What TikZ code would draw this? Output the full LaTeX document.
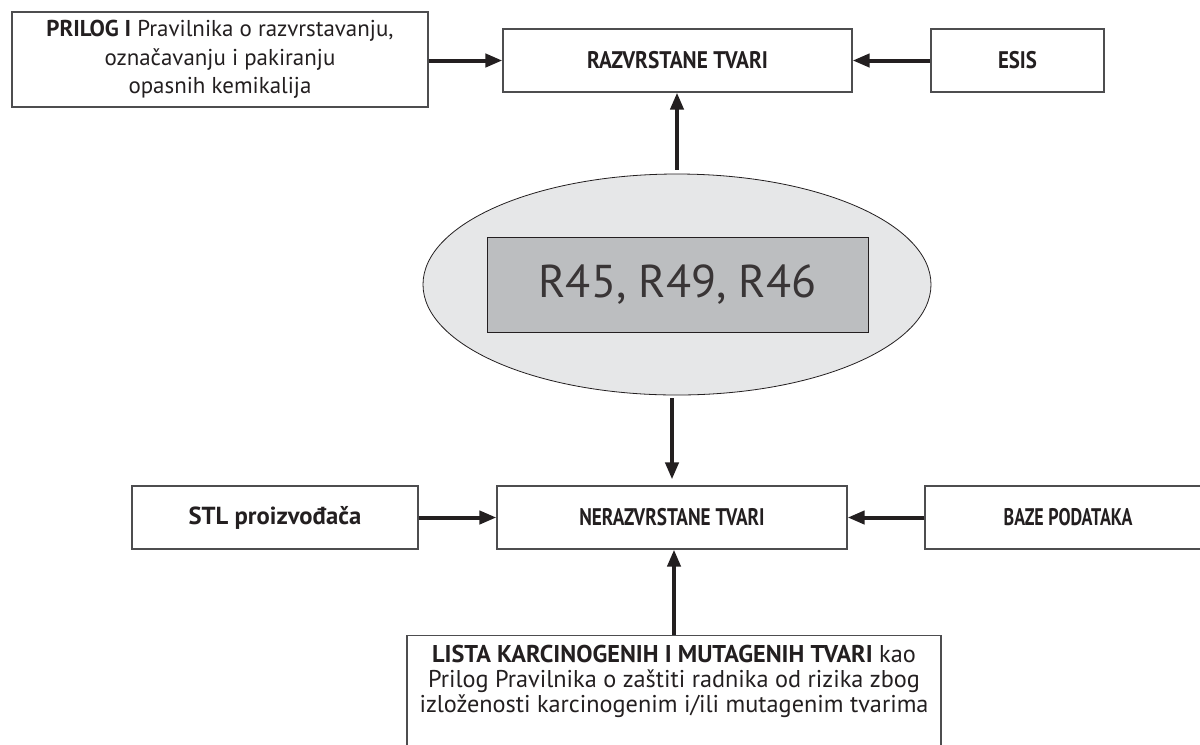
\documentclass[tikz,border=0pt]{standalone}
\usepackage{fontspec}
\setmainfont{PT Sans}
\usetikzlibrary{arrows.meta,shapes.geometric}
\definecolor{ink}{HTML}{231F20}
\definecolor{ellfill}{HTML}{E6E7E8}
\definecolor{rectfill}{HTML}{BCBEC0}
\definecolor{boxline}{HTML}{4D4D4F}
\begin{document}
\begin{tikzpicture}[x=0.75pt,y=-0.75pt,
  box/.style={draw=boxline, line width=0.9pt, fill=white, inner sep=0pt, text=ink, align=center},
  lblbox/.style={box, minimum height=47.25pt},
  lbltext/.style={font=\fontsize{18}{19}\selectfont\bfseries},
  arr/.style={draw=ink, line width=3pt, -{Triangle[length=12.75pt,width=9.75pt]}}]
\fill[white] (0,0) rectangle (1200,744);
\clip (0,0) rectangle (1200,744);
\useasboundingbox (0,0) rectangle (1200,744);

\node[box, minimum width=312pt, minimum height=71.25pt,
      font=\fontsize{17.2}{19}\selectfont] (prilog) at (220,59.5)
  {\textbf{PRILOG I} Pravilnika o razvrstavanju,\\[2.5pt]označavanju i pakiranju\\[2.5pt]opasnih kemikalija};
\node[lblbox, minimum width=261.75pt, lbltext] (razv) at (677.5,60.5)
  {\scalebox{0.89}[1]{RAZVRSTANE TVARI}};
\node[lblbox, minimum width=129.75pt, lbltext] (esis) at (1017.5,60.5)
  {\scalebox{0.87}[1]{ESIS}};

\node[ellipse, draw=ink, line width=0.6pt, fill=ellfill, inner sep=0pt,
      minimum width=381pt, minimum height=165.75pt] (ell) at (677,284.5) {};
\node[draw=ink, line width=0.6pt, fill=rectfill, inner sep=0pt,
      minimum width=285.75pt, minimum height=71.25pt,
      text=ink!90, font=\fontsize{34.5}{38}\selectfont] (rcodes) at (677.5,284.5)
  {R45, R49, R46};

\node[lblbox, minimum width=214.5pt, font=\fontsize{18.5}{19}\selectfont\bfseries] (stl) at (275,517.5)
  {STL proizvođača};
\node[lblbox, minimum width=262.5pt, lbltext] (nerazv) at (672,517.5)
  {\scalebox{0.8}[1]{NERAZVRSTANE TVARI}};
\node[lblbox, minimum width=214.5pt, lbltext] (baze) at (1068,517.5)
  {\scalebox{0.75}[1]{BAZE PODATAKA}};

\node[box, minimum width=400.5pt, anchor=north, inner ysep=7pt,
      font=\fontsize{18.2}{18.75}\selectfont] (lista) at (674,635)
  {\textbf{LISTA KARCINOGENIH I MUTAGENIH TVARI} kao\\
   Prilog Pravilnika o zaštiti radnika od rizika zbog\\
   izloženosti karcinogenim i/ili mutagenim tvarima\rule[-30pt]{0pt}{0pt}};

\draw[arr] (prilog.east |- razv.west) -- (razv.west);
\draw[arr] (esis.west) -- (razv.east);
\draw[arr, shorten <=3pt] (ell.north) -- (ell.north |- razv.south);
\draw[arr, shorten <=2pt, shorten >=4.5pt] (ell.south -| nerazv.north) -- (nerazv.north);
\draw[arr] (stl.east) -- (nerazv.west);
\draw[arr] (baze.west) -- (nerazv.east);
\draw[arr] (lista.north) -- (lista.north |- nerazv.south);
\end{tikzpicture}
\end{document}
